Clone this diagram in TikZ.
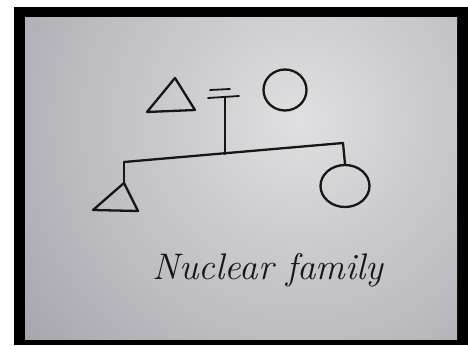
\documentclass[tikz,border=0pt]{standalone}
\usetikzlibrary{shapes.geometric}
\definecolor{paperlight}{RGB}{224,224,226}
\definecolor{paperdark}{RGB}{132,132,142}
\definecolor{ink}{RGB}{22,22,22}
\tikzset{
  inkline/.style={draw=ink, line width=2.3pt, line cap=round, line join=round},
  femalenode/.style={inkline, ellipse, inner sep=0pt},
}
\begin{document}
\begin{tikzpicture}[x=1pt,y=-1pt]
\useasboundingbox (0,0) rectangle (468,345);
\fill[white] (0,0) rectangle (468,345);
\fill[black] (14,7) rectangle (468,345);
\begin{scope}
  \clip (25,18) rectangle (457,339);
  \shade[inner color=paperlight, outer color=paperdark] (300,120) circle (560);
\end{scope}

% father (top triangle)
\coordinate (fL) at (147,112);
\coordinate (fR) at (195,110);
\coordinate (fT) at (175,78);
\draw[inkline] (fL) -- (fT) -- (fR) -- cycle;

% mother (top circle)
\node[femalenode, minimum width=43pt, minimum height=41pt] (mother) at (285,90) {};

% marriage marks
\coordinate (m1a) at (210,90);
\coordinate (m1b) at (230,89);
\coordinate (m2a) at (208,98);
\coordinate (m2b) at (239,96);
\draw[inkline, line width=1.8pt] (m1a) -- (m1b);
\draw[inkline, line width=1.8pt] (m2a) -- (m2b);

% descent line
\coordinate (descTop) at (225,97);
\coordinate (descBot) at (225,154);
\draw[inkline] (descTop) -- (descBot);

% sibship line
\coordinate (sibL) at (124,162);
\coordinate (sibR) at (343,143);
\draw[inkline] (sibL) -- (sibR);

% son (left triangle)
\coordinate (sT) at (124,183);
\coordinate (sL) at (93,210);
\coordinate (sR) at (138,211);
\draw[inkline] (sibL) -- (sT);
\draw[inkline] (sT) -- (sL) -- (sR) -- cycle;

% daughter (right circle)
\node[femalenode, minimum width=49pt, minimum height=42pt] (daughter) at (345,186) {};
\draw[inkline] (sibR) -- (daughter.north);

% label
\node[text=ink, font=\fontsize{37}{42}\selectfont\itshape] (label) at (268,270) {Nuclear family};
\end{tikzpicture}
\end{document}
